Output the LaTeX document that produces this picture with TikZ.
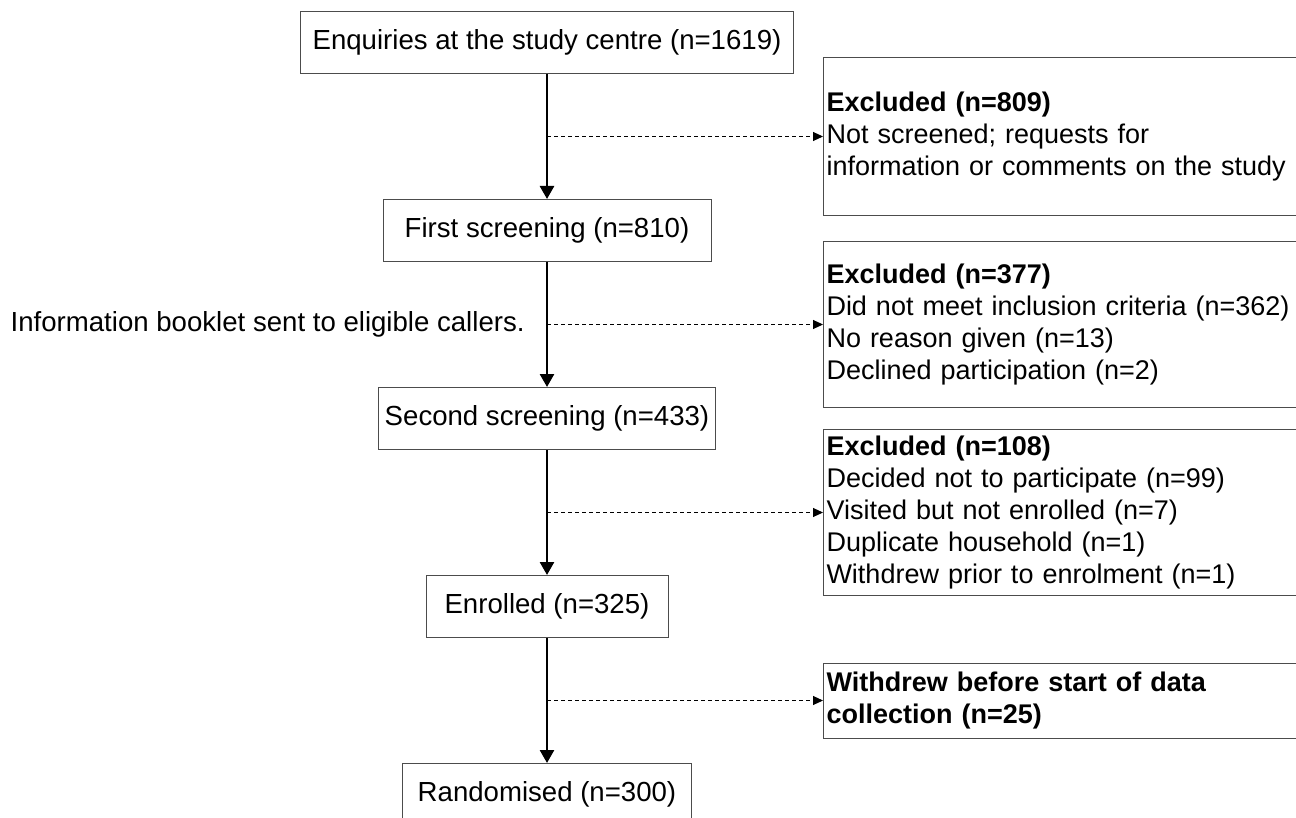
\documentclass[tikz,border=0pt]{standalone}
\usepackage{fontspec}
\setmainfont{Liberation Sans}
\usetikzlibrary{positioning}
\usetikzlibrary{arrows.meta}

\tikzset{
        stage/.style={draw=black!70, line width=0.5pt, minimum height=31pt, inner sep=2pt, font=\fontsize{13.8}{16}\selectfont},
        outbox/.style={draw=black!70, line width=0.5pt, align=left, text width=240pt, inner xsep=1.5pt, font=\fontsize{13.5}{16}\selectfont},
        note/.style={inner sep=0pt, font=\fontsize{13.8}{16}\selectfont},
        flow/.style={line width=1.3pt, -{Triangle[length=6.5pt,width=7pt]}},
        drop/.style={line width=0.5pt, dash pattern=on 2pt off 1.5pt, -{Triangle[length=5pt,width=4.5pt]}}
}

\begin{document}
\begin{tikzpicture}[x=0.5pt, y=-0.5pt, node distance=62.5pt]
        \useasboundingbox (0,0) rectangle (1296,818);
        \node (enq) [stage, minimum width=246.5pt] at (547,42.5) {Enquiries at the study centre (n=1619)};
        \node (first) [stage, below=of enq, minimum width=164pt] {First screening (n=810)};
        \node (second) [stage, below=of first, minimum width=168.5pt] {Second screening (n=433)};
        \node (enrol) [stage, below=of second, minimum width=121pt] {Enrolled (n=325)};
        \node (rand) [stage, below=of enrol, minimum width=144.5pt] {Randomised (n=300)};
        \draw [flow] (enq) -- coordinate (m1) (first);
        \draw [flow] (first) -- coordinate (m2) (second);
        \draw [flow] (second) -- coordinate (m3) (enrol);
        \draw [flow] (enrol) -- coordinate (m4) (rand);
        \node (ex1) [outbox, right=138pt of m1, minimum height=79pt] {\textbf{Excluded (n=809)}\\Not screened; requests for\\information or comments on the study};
        \node (ex2) [outbox, right=138pt of m2, minimum height=83pt] {\textbf{Excluded (n=377)}\\Did not meet inclusion criteria (n=362)\\No reason given (n=13)\\Declined participation (n=2)};
        \node (ex3) [outbox, right=138pt of m3, minimum height=79pt] {\textbf{Excluded (n=108)}\\Decided not to participate (n=99)\\Visited but not enrolled (n=7)\\Duplicate household (n=1)\\Withdrew prior to enrolment (n=1)};
        \node (ex4) [outbox, right=138pt of m4, minimum height=37.5pt] {\textbf{Withdrew before start of data}\\\textbf{collection (n=25)}};
        \node (info) [note, left=11pt of m2] {Information booklet sent to eligible callers.};
        \draw [drop] (m1) -- (ex1);
        \draw [drop] (m2) -- (ex2);
        \draw [drop] (m3) -- (ex3);
        \draw [drop] (m4) -- (ex4);
\end{tikzpicture}
\end{document}
